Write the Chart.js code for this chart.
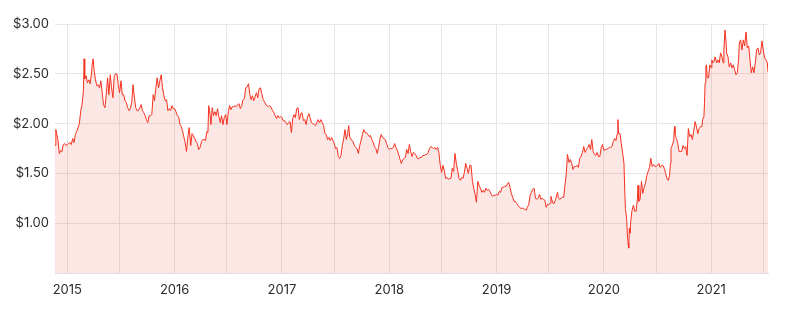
<!DOCTYPE html>
<html>
<head>
<meta charset="utf-8">
<script src="https://cdn.jsdelivr.net/npm/chart.js@4/dist/chart.umd.min.js"></script>
<style>
  body { margin: 0; background: #fff; }
  #wrap { width: 802px; height: 310px; }
</style>
</head>
<body>
<div id="wrap"><canvas id="chart" width="802" height="310"></canvas></div>
<script>
// dates as fractional years, prices in dollars
var yearFrac = [
  2014.885, 2014.893, 2014.900, 2014.912, 2014.925, 2014.937, 2014.950, 2014.962, 2014.975, 2014.987,
  2015.000, 2015.012, 2015.025, 2015.037, 2015.050, 2015.062, 2015.075, 2015.087, 2015.100, 2015.112,
  2015.125, 2015.137, 2015.150, 2015.156, 2015.162, 2015.175, 2015.187, 2015.200, 2015.212, 2015.225,
  2015.231, 2015.240, 2015.250, 2015.262, 2015.275, 2015.287, 2015.300, 2015.312, 2015.325, 2015.337,
  2015.350, 2015.362, 2015.375, 2015.387, 2015.400, 2015.412, 2015.425, 2015.437, 2015.450, 2015.462,
  2015.475, 2015.487, 2015.500, 2015.512, 2015.525, 2015.537, 2015.550, 2015.562, 2015.575, 2015.587,
  2015.600, 2015.612, 2015.625, 2015.637, 2015.650, 2015.662, 2015.675, 2015.687, 2015.700, 2015.712,
  2015.725, 2015.737, 2015.750, 2015.762, 2015.775, 2015.787, 2015.800, 2015.812, 2015.825, 2015.837,
  2015.850, 2015.862, 2015.875, 2015.887, 2015.900, 2015.912, 2015.925, 2015.937, 2015.950, 2015.962,
  2015.975, 2015.987,
  2016.000, 2016.012, 2016.025, 2016.037, 2016.050, 2016.062, 2016.075, 2016.087, 2016.100, 2016.110,
  2016.125, 2016.135, 2016.150, 2016.162, 2016.175, 2016.187, 2016.200, 2016.212, 2016.225, 2016.237,
  2016.250, 2016.262, 2016.275, 2016.287, 2016.300, 2016.310, 2016.317, 2016.325, 2016.338, 2016.350,
  2016.362, 2016.375, 2016.387, 2016.400, 2016.412, 2016.425, 2016.437, 2016.450, 2016.462, 2016.475,
  2016.487, 2016.500, 2016.512, 2016.525, 2016.537, 2016.550, 2016.562, 2016.575, 2016.587, 2016.600,
  2016.612, 2016.625, 2016.637, 2016.650, 2016.662, 2016.675, 2016.688, 2016.700, 2016.712, 2016.725,
  2016.737, 2016.750, 2016.762, 2016.775, 2016.787, 2016.800, 2016.812, 2016.825, 2016.837, 2016.850,
  2016.862, 2016.875, 2016.887, 2016.900, 2016.912, 2016.925, 2016.937, 2016.950, 2016.962, 2016.975,
  2016.987,
  2017.000, 2017.012, 2017.025, 2017.037, 2017.050, 2017.062, 2017.075, 2017.088, 2017.100, 2017.112,
  2017.125, 2017.137, 2017.150, 2017.162, 2017.175, 2017.187, 2017.200, 2017.212, 2017.225, 2017.237,
  2017.250, 2017.262, 2017.275, 2017.287, 2017.300, 2017.312, 2017.325, 2017.337, 2017.350, 2017.362,
  2017.375, 2017.388, 2017.400, 2017.412, 2017.425, 2017.437, 2017.450, 2017.462, 2017.475, 2017.487,
  2017.500, 2017.512, 2017.525, 2017.538, 2017.550, 2017.562, 2017.575, 2017.587, 2017.600, 2017.612,
  2017.622, 2017.630, 2017.650, 2017.662, 2017.675, 2017.687, 2017.700, 2017.712, 2017.725, 2017.737,
  2017.750, 2017.762, 2017.775, 2017.787, 2017.800, 2017.812, 2017.825, 2017.837, 2017.850, 2017.862,
  2017.875, 2017.887, 2017.900, 2017.912, 2017.925, 2017.937, 2017.950, 2017.962, 2017.975, 2017.987,
  2018.000, 2018.012, 2018.025, 2018.037, 2018.050, 2018.062, 2018.075, 2018.087, 2018.100, 2018.112,
  2018.125, 2018.137, 2018.150, 2018.162, 2018.175, 2018.187, 2018.200, 2018.212, 2018.225, 2018.237,
  2018.250, 2018.262, 2018.275, 2018.287, 2018.300, 2018.312, 2018.325, 2018.337, 2018.350, 2018.362,
  2018.375, 2018.387, 2018.400, 2018.412, 2018.425, 2018.437, 2018.450, 2018.462, 2018.475, 2018.487,
  2018.500, 2018.512, 2018.525, 2018.537, 2018.550, 2018.562, 2018.575, 2018.587, 2018.600, 2018.612,
  2018.625, 2018.637, 2018.650, 2018.662, 2018.675, 2018.687, 2018.700, 2018.712, 2018.725, 2018.737,
  2018.750, 2018.762, 2018.775, 2018.787, 2018.800, 2018.812, 2018.825, 2018.837, 2018.850, 2018.862,
  2018.875, 2018.887, 2018.900, 2018.912, 2018.925, 2018.937, 2018.950, 2018.962, 2018.975, 2018.987,
  2019.000, 2019.012, 2019.025, 2019.037, 2019.050, 2019.062, 2019.075, 2019.087, 2019.100, 2019.112,
  2019.125, 2019.137, 2019.150, 2019.162, 2019.175, 2019.187, 2019.200, 2019.212, 2019.225, 2019.237,
  2019.250, 2019.262, 2019.275, 2019.287, 2019.300, 2019.312, 2019.325, 2019.337, 2019.350, 2019.362,
  2019.375, 2019.387, 2019.400, 2019.412, 2019.425, 2019.437, 2019.450, 2019.462, 2019.475, 2019.487,
  2019.500, 2019.506, 2019.525, 2019.537, 2019.550, 2019.568, 2019.575, 2019.587, 2019.600, 2019.612,
  2019.625, 2019.637, 2019.650, 2019.660, 2019.675, 2019.687, 2019.700, 2019.712, 2019.725, 2019.737,
  2019.750, 2019.762, 2019.775, 2019.787, 2019.800, 2019.812, 2019.825, 2019.837, 2019.850, 2019.862,
  2019.875, 2019.887, 2019.900, 2019.912, 2019.925, 2019.937, 2019.950, 2019.962, 2019.975, 2019.987,
  2020.000, 2020.012, 2020.025, 2020.037, 2020.050, 2020.062, 2020.075, 2020.087, 2020.100, 2020.112,
  2020.125, 2020.130, 2020.137, 2020.150, 2020.162, 2020.175, 2020.187, 2020.195, 2020.200, 2020.212,
  2020.218, 2020.225, 2020.231, 2020.237, 2020.243, 2020.250, 2020.262, 2020.275, 2020.287, 2020.300,
  2020.312, 2020.318, 2020.325, 2020.337, 2020.350, 2020.362, 2020.375, 2020.387, 2020.400, 2020.412,
  2020.425, 2020.437, 2020.450, 2020.462, 2020.475, 2020.487, 2020.500, 2020.512, 2020.525, 2020.537,
  2020.550, 2020.562, 2020.575, 2020.587, 2020.600, 2020.612, 2020.620, 2020.625, 2020.637, 2020.650,
  2020.658, 2020.662, 2020.675, 2020.687, 2020.700, 2020.712, 2020.725, 2020.737, 2020.750, 2020.762,
  2020.775, 2020.787, 2020.800, 2020.812, 2020.825, 2020.837, 2020.850, 2020.862, 2020.875, 2020.887,
  2020.900, 2020.912, 2020.920, 2020.932, 2020.937, 2020.943, 2020.950, 2020.956, 2020.962, 2020.975,
  2020.987,
  2021.000, 2021.006, 2021.012, 2021.025, 2021.037, 2021.050, 2021.062, 2021.075, 2021.087, 2021.100,
  2021.112, 2021.118, 2021.128, 2021.137, 2021.143, 2021.156, 2021.168, 2021.181, 2021.193, 2021.206,
  2021.218, 2021.231, 2021.243, 2021.255, 2021.262, 2021.274, 2021.286, 2021.299, 2021.311, 2021.324,
  2021.336, 2021.349, 2021.361, 2021.373, 2021.386, 2021.398, 2021.411, 2021.423, 2021.436, 2021.448,
  2021.460, 2021.473, 2021.485, 2021.498, 2021.510, 2021.523, 2021.529
];

var prices = [
  1.78, 1.94, 1.90, 1.84, 1.70, 1.73, 1.72, 1.79, 1.80, 1.78,
  1.79, 1.80, 1.81, 1.79, 1.85, 1.81, 1.89, 1.92, 1.96, 2.00,
  2.13, 2.19, 2.33, 2.65, 2.45, 2.48, 2.41, 2.44, 2.40, 2.50,
  2.59, 2.65, 2.53, 2.44, 2.38, 2.39, 2.36, 2.43, 2.31, 2.19,
  2.16, 2.29, 2.46, 2.29, 2.49, 2.36, 2.26, 2.48, 2.50, 2.50,
  2.39, 2.31, 2.43, 2.29, 2.29, 2.23, 2.21, 2.16, 2.13, 2.15,
  2.21, 2.39, 2.26, 2.16, 2.13, 2.13, 2.16, 2.19, 2.13, 2.11,
  2.08, 2.04, 2.01, 2.08, 2.08, 2.09, 2.29, 2.23, 2.36, 2.46,
  2.36, 2.43, 2.49, 2.36, 2.28, 2.23, 2.24, 2.13, 2.15, 2.13,
  2.18, 2.15,
  2.15, 2.12, 2.08, 2.07, 1.99, 1.97, 1.92, 1.86, 1.80, 1.72,
  1.88, 1.96, 1.78, 1.90, 1.88, 1.85, 1.82, 1.80, 1.74, 1.76,
  1.82, 1.84, 1.84, 1.83, 1.92, 1.91, 2.18, 2.14, 1.99, 2.16,
  2.08, 2.12, 2.08, 2.15, 2.07, 2.01, 2.08, 1.99, 2.06, 2.09,
  1.99, 2.12, 2.18, 2.14, 2.17, 2.17, 2.18, 2.17, 2.19, 2.20,
  2.15, 2.18, 2.24, 2.25, 2.36, 2.37, 2.40, 2.30, 2.24, 2.28,
  2.23, 2.27, 2.31, 2.26, 2.35, 2.36, 2.30, 2.24, 2.22, 2.19,
  2.18, 2.17, 2.18, 2.16, 2.13, 2.11, 2.08, 2.05, 2.08, 2.06,
  2.07,
  2.06, 2.03, 2.03, 2.01, 1.99, 2.01, 2.02, 1.91, 2.05, 2.09,
  2.06, 2.15, 2.16, 2.04, 2.10, 2.11, 2.03, 2.04, 1.99, 2.06,
  2.10, 2.06, 2.01, 2.00, 1.99, 1.98, 2.01, 2.04, 2.01, 2.04,
  2.01, 1.98, 1.90, 1.89, 1.84, 1.86, 1.83, 1.86, 1.83, 1.80,
  1.75, 1.76, 1.67, 1.65, 1.68, 1.78, 1.85, 1.94, 1.84, 1.90,
  1.98, 1.87, 1.83, 1.82, 1.78, 1.76, 1.75, 1.70, 1.78, 1.83,
  1.89, 1.94, 1.91, 1.91, 1.89, 1.87, 1.88, 1.84, 1.81, 1.77,
  1.75, 1.70, 1.76, 1.84, 1.89, 1.86, 1.85, 1.84, 1.80, 1.76,
  1.74, 1.75, 1.75, 1.76, 1.80, 1.76, 1.73, 1.69, 1.64, 1.60,
  1.64, 1.65, 1.66, 1.74, 1.70, 1.79, 1.72, 1.67, 1.71, 1.70,
  1.68, 1.65, 1.65, 1.66, 1.66, 1.68, 1.68, 1.69, 1.69, 1.71,
  1.75, 1.77, 1.76, 1.75, 1.76, 1.74, 1.76, 1.71, 1.58, 1.51,
  1.58, 1.53, 1.45, 1.46, 1.44, 1.45, 1.45, 1.55, 1.52, 1.70,
  1.60, 1.53, 1.45, 1.43, 1.46, 1.45, 1.51, 1.60, 1.55, 1.50,
  1.58, 1.58, 1.42, 1.35, 1.29, 1.21, 1.42, 1.38, 1.35, 1.31,
  1.33, 1.31, 1.35, 1.33, 1.34, 1.32, 1.29, 1.27, 1.28, 1.28,
  1.29, 1.28, 1.32, 1.31, 1.36, 1.36, 1.37, 1.37, 1.39, 1.41,
  1.36, 1.30, 1.26, 1.22, 1.22, 1.20, 1.18, 1.16, 1.15, 1.15,
  1.15, 1.14, 1.13, 1.16, 1.19, 1.28, 1.31, 1.34, 1.35, 1.25,
  1.24, 1.25, 1.29, 1.24, 1.25, 1.24, 1.23, 1.16, 1.19, 1.19,
  1.20, 1.27, 1.20, 1.20, 1.24, 1.31, 1.26, 1.24, 1.25, 1.26,
  1.26, 1.38, 1.50, 1.69, 1.61, 1.64, 1.60, 1.54, 1.57, 1.57,
  1.58, 1.56, 1.65, 1.67, 1.71, 1.77, 1.71, 1.74, 1.76, 1.79,
  1.74, 1.84, 1.72, 1.69, 1.68, 1.71, 1.67, 1.67, 1.76, 1.79,
  1.73, 1.74, 1.74, 1.75, 1.76, 1.76, 1.77, 1.82, 1.85, 1.83,
  1.90, 2.04, 1.90, 1.90, 1.80, 1.70, 1.60, 1.30, 1.15, 1.05,
  0.90, 0.80, 0.75, 0.95, 0.90, 1.02, 1.13, 1.18, 1.12, 1.12,
  1.25, 1.38, 1.22, 1.24, 1.42, 1.30, 1.36, 1.40, 1.48, 1.52,
  1.56, 1.65, 1.57, 1.59, 1.57, 1.57, 1.58, 1.60, 1.56, 1.58,
  1.58, 1.55, 1.50, 1.45, 1.43, 1.48, 1.60, 1.75, 1.78, 1.83,
  1.97, 1.90, 1.85, 1.81, 1.72, 1.72, 1.72, 1.78, 1.75, 1.77,
  1.68, 1.95, 1.87, 1.89, 1.84, 1.93, 2.02, 1.97, 1.90, 1.95,
  1.97, 1.97, 2.04, 2.07, 2.20, 2.41, 2.57, 2.59, 2.46, 2.46,
  2.59,
  2.56, 2.64, 2.61, 2.62, 2.67, 2.61, 2.64, 2.61, 2.71, 2.67,
  2.61, 2.74, 2.94, 2.84, 2.71, 2.67, 2.57, 2.61, 2.56, 2.59,
  2.54, 2.49, 2.51, 2.64, 2.81, 2.84, 2.74, 2.84, 2.78, 2.92,
  2.76, 2.78, 2.64, 2.51, 2.57, 2.51, 2.61, 2.74, 2.76, 2.69,
  2.71, 2.83, 2.74, 2.66, 2.64, 2.61, 2.52
];

var tickLabels = ['2015', '2016', '2017', '2018', '2019', '2020', '2021'];
var priceTicks = [1.00, 1.50, 2.00, 2.50, 3.00];

var pontos = yearFrac.map(function (x, i) { return { x: x, y: prices[i] }; });

// linhas de grade: inicio de cada ano e meio do ano
var gradeX = [];
tickLabels.forEach(function (t) {
  gradeX.push(Number(t));
  gradeX.push(Number(t) + 0.486);
});

var corTexto = '#2b2b2b';
var corGrade = '#e6e6e6';
var fonte = { family: 'Inter, "Noto Sans", sans-serif', size: 13 };

var ctx = document.getElementById('chart').getContext('2d');
window.grafico = new Chart(ctx, {
  type: 'line',
  data: {
    datasets: [{
      data: pontos,
      borderColor: '#f5301f',
      borderWidth: 1,
      pointRadius: 0,
      tension: 0,
      fill: 'start',
      backgroundColor: 'rgba(240, 60, 40, 0.12)'
    }]
  },
  options: {
    responsive: false,
    animation: false,
    layout: { padding: { top: 24, right: 34, left: 0, bottom: 0 } },
    plugins: { legend: { display: false }, tooltip: { enabled: false } },
    scales: {
      x: {
        type: 'linear',
        min: yearFrac[0],
        max: yearFrac[yearFrac.length - 1],
        afterBuildTicks: function (s) {
          s.ticks = gradeX.map(function (v) { return { value: v }; });
        },
        afterFit: function (s) { s.height = 37; },
        ticks: {
          autoSkip: false,
          maxRotation: 0,
          padding: 9,
          color: corTexto,
          font: fonte,
          callback: function (v) {
            var i = tickLabels.indexOf(String(v));
            return i >= 0 ? tickLabels[i] : '';
          }
        },
        grid: { color: corGrade, drawTicks: false },
        border: { color: '#e0e0e0' }
      },
      y: {
        min: 0.5,
        max: 3.0,
        afterBuildTicks: function (s) {
          s.ticks = priceTicks.map(function (v) { return { value: v }; });
        },
        afterFit: function (s) { s.width = 55; },
        ticks: {
          padding: 6,
          color: corTexto,
          font: fonte,
          callback: function (v) { return '$' + v.toFixed(2); }
        },
        grid: { color: corGrade, drawTicks: false },
        border: { display: false }
      }
    }
  }
});
</script>
</body>
</html>
